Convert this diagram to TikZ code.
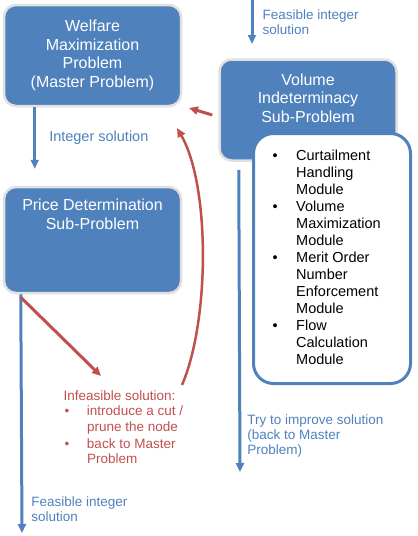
\documentclass[tikz,border=0pt]{standalone}
\usepackage{fontspec}
\setmainfont{Liberation Sans}
\usetikzlibrary{positioning,arrows.meta}
\definecolor{boxblue}{RGB}{79,129,189}
\definecolor{cutred}{RGB}{192,80,77}
\tikzstyle{problem} = [rectangle, rounded corners=12pt, minimum width=177pt, minimum height=101pt, draw=black!12, line width=2.5pt, fill=boxblue, text=white, align=center, inner sep=0pt, font=\fontsize{16}{18.5}\selectfont]
\tikzstyle{boxtext} = [text=white, align=center, inner sep=0pt, font=\fontsize{16}{18.5}\selectfont]
\tikzstyle{modules} = [rectangle, rounded corners=20pt, minimum width=157pt, minimum height=250pt, draw=boxblue, line width=3pt, fill=white]
\tikzstyle{lbl} = [inner sep=0pt, align=left, text=boxblue, font=\fontsize{13.5}{15}\selectfont]
\tikzstyle{arrow} = [line width=3pt, draw=boxblue, -{Triangle[length=9pt,width=8pt]}]
\tikzstyle{cut} = [line width=3pt, draw=cutred, -{Triangle[length=9pt,width=8pt]}]

\begin{document}
\begin{tikzpicture}[x=1pt, y=-1pt]
      \useasboundingbox (0,0) rectangle (418,536);
      \node (welfare) [problem] at (92.5,55.5) {Welfare\\Maximization\\Problem\\(Master Problem)};
      \node (price) [problem, minimum height=106pt] at (92.5,240) {};
      \node (pricetext) [boxtext, below=13pt of price.north] {Price Determination\\Sub-Problem};
      \node (volume) [problem] at (308,110) {};
      \node (volumetext) [boxtext, below=15pt of volume.north] {Volume\\Indeterminacy\\Sub-Problem};
      \node (modules) [modules] at (332,258.5) {};
      \node (modlist) [anchor=north west, inner sep=0pt, font=\fontsize{14.5}{17}\selectfont] at (272.5,148.5) {%
        \begin{tabular}{@{}p{23.5pt}@{}l@{}}
          \textbullet & Curtailment\\
                      & Handling\\
                      & Module\\
          \textbullet & Volume\\
                      & Maximization\\
                      & Module\\
          \textbullet & Merit Order\\
                      & Number\\
                      & Enforcement\\
                      & Module\\
          \textbullet & Flow\\
                      & Calculation\\
                      & Module
        \end{tabular}};
      \node (infeasible) [anchor=north west, inner sep=0pt, text=cutred, font=\fontsize{13.5}{15.5}\selectfont] at (63.5,389) {%
        \begin{tabular}{@{\hspace{0.8pt}}p{22.5pt}@{}l@{}}
          \multicolumn{2}{@{}l@{}}{Infeasible solution:}\\
          \textbullet & introduce a cut /\\
                      & prune the node\\[1.5pt]
          \textbullet & back to Master\\
                      & Problem
        \end{tabular}};
      % free ends
      \coordinate (topin) at (252,0);
      \coordinate (topout) at (252,44);
      \coordinate (finalout) at (22,533);
      \coordinate (improveout) at (240,472);
      \coordinate (cutout) at (101,376);
      \coordinate (loopstart) at (182,385);
      \coordinate (loopend) at (177,128);
      \coordinate (backin) at (189,108);
      % blue flow
      \draw [arrow](topin)--(topout) node[lbl, midway, right=9pt] {Feasible integer\\solution};
      \draw [arrow]([xshift=32pt]welfare.south west)--([xshift=32pt,yshift=17pt]price.north west) node[lbl, midway, right=13pt, font=\fontsize{14.5}{16}\selectfont] {Integer solution};
      \draw [arrow]([xshift=18pt]price.south west)--(finalout) node[lbl, pos=0.9, right=8pt] {Feasible integer\\solution};
      \draw [arrow]([xshift=20.5pt,yshift=-8pt]volume.south west)--(improveout) node[lbl, pos=0.88, right=6pt] {Try to improve solution\\(back to Master\\Problem)};
      % red flow
      \draw [cut]([xshift=18pt,yshift=-3pt]price.south west)--(cutout);
      \draw [cut]([xshift=-6pt,yshift=-5pt]volume.west)--(backin);
      \draw [cut, line width=2.5pt](loopstart) .. controls (210,320) and (210,185) .. (loopend);
    \end{tikzpicture}
\end{document}
